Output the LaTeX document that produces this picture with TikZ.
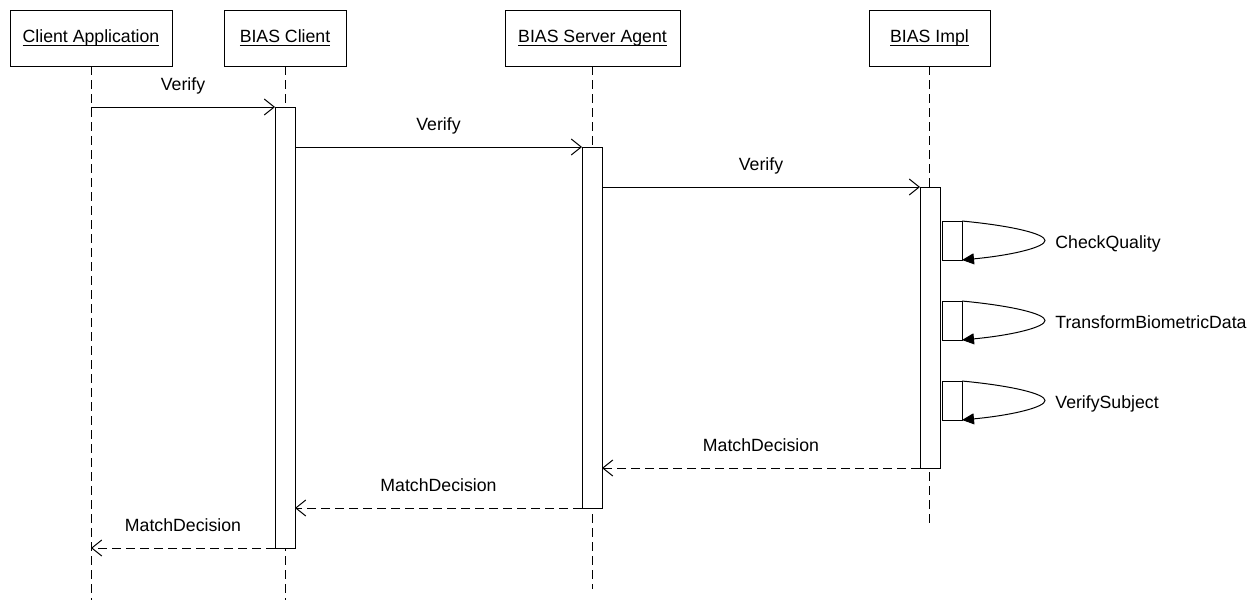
\documentclass[tikz,border=0pt]{standalone}
\usepackage{fontspec}
\setmainfont{Liberation Sans}
\usetikzlibrary{arrows.meta}
\newcommand\hdrul[1]{\setbox0\hbox{#1}\rlap{\rule[-1.9pt]{\wd0}{0.5pt}}\box0}
\begin{document}
\begin{tikzpicture}[x=0.5pt,y=-0.5pt,
  every node/.style={font=\fontsize{8.85pt}{10pt}\selectfont},
  header/.style={draw, line width=0.5pt, minimum width=#1, minimum height=28pt, inner sep=0pt, outer sep=0pt},
  actbar/.style={draw, fill=white, line width=0.5pt, minimum width=10pt, minimum height=#1, inner sep=0pt, outer sep=0pt, anchor=north},
  selfbox/.style={draw, fill=white, line width=0.5pt, minimum width=10pt, minimum height=19.5pt, inner sep=0pt, outer sep=0pt, anchor=north west},
  life/.style={line width=0.5pt, dash pattern=on 4.5pt off 2.5pt},
  callarrow/.style={line width=0.5pt, -{Straight Barb[length=5pt,width=8pt]}},
  retarrow/.style={callarrow, dash pattern=on 4.5pt off 2.5pt},
  selfarrow/.style={line width=0.5pt, -{Triangle[length=6pt,width=5.5pt]}},
  msg/.style={midway, anchor=base, yshift=8.5pt, inner sep=0pt},
]
\useasboundingbox (0,0) rectangle (1256,600);

% headers
\node[header=81pt]   (ca) at (91,38)    {\hdrul{Client Application}};
\node[header=61pt]   (bc) at (285,38)   {\hdrul{BIAS Client}};
\node[header=87.5pt] (sa) at (592.5,38) {\hdrul{BIAS Server Agent}};
\node[header=60.5pt] (im) at (929.5,38) {\hdrul{BIAS Impl}};

% lifelines
\coordinate (caend) at (91,600);
\coordinate (bcend) at (285,600);
\coordinate (saend) at (592.5,589);
\coordinate (imend) at (929.5,525);
\draw[life] (ca.south) -- (caend);
\draw[life] (bc.south) -- (bcend);
\draw[life] (sa.south) -- (saend);
\draw[life] (im.south) -- (imend);

% activation bars
\node[actbar=220.5pt] (bcbar) at (285,107) {};
\node[actbar=180.5pt] (sabar) at (592,147) {};
\node[actbar=140.5pt] (imbar) at (930,187) {};

% calls
\coordinate (m1s) at (91,107);
\draw[callarrow] (m1s) -- (bcbar.north west) node[msg] {Verify};
\draw[callarrow] (bcbar.east |- sabar.north) -- (sabar.north west) node[msg] {Verify};
\draw[callarrow] (sabar.east |- imbar.north) -- (imbar.north west) node[msg] {Verify};

% self calls
\foreach \yy/\txt/\nm in {221/CheckQuality/s1, 301/TransformBiometricData/s2, 381/VerifySubject/s3}{
  \node[selfbox] (\nm) at (942,\yy) {};
  \draw[selfarrow] (\nm.north east) .. controls (1014,{\yy+5}) and (1045,{\yy+13}) .. (1045,{\yy+19.5})
     .. controls (1045,{\yy+26}) and (1014,{\yy+34}) .. (\nm.south east);
  \node[anchor=base west, inner sep=0pt] (\nm l) at (1055,{\yy+27}) {\txt};
}

% returns
\draw[retarrow] (imbar.south west) -- (imbar.south west -| sabar.east) node[msg] {MatchDecision};
\draw[retarrow] (sabar.south west) -- (sabar.south west -| bcbar.east) node[msg] {MatchDecision};
\draw[retarrow] (bcbar.south west) -- (bcbar.south west -| ca.south) node[msg] {MatchDecision};
\end{tikzpicture}
\end{document}
